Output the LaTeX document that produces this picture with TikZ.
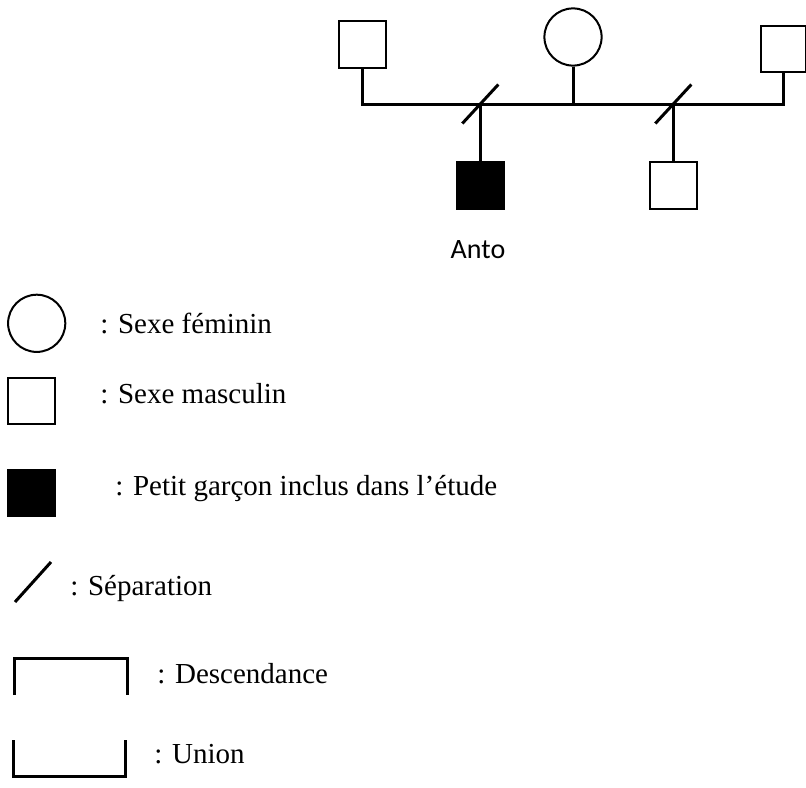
\documentclass[tikz,border=0pt]{standalone}
\usepackage{fontspec}
\setmainfont{Liberation Serif}
\newfontfamily\antofont{Carlito}
\begin{document}
\begin{tikzpicture}[x=0.5pt,y=-0.5pt,
    male/.style={draw,line width=1pt,minimum size=23.3pt,inner sep=0pt,fill=white},
    female/.style={draw,circle,line width=1pt,minimum size=28.6pt,inner sep=0pt},
    index/.style={male,fill=black},
    lien/.style={line width=1.5pt},
    legende/.style={anchor=base west,inner sep=0pt,font=\fontsize{14.5}{17}\selectfont}]
  \useasboundingbox (0,0) rectangle (806,787);
  % pedigree
  \node[male] (pereA) at (362.5,44.5) {};
  \node[female] (mere) at (573,37) {};
  \node[male,minimum size=22.8pt] (pereB) at (783.5,49) {};
  \node[index] (anto) at (480.3,185.3) {};
  \node[male] (frere) at (673.3,185.3) {};
  \node[anchor=base,inner sep=0pt,font=\antofont\fontsize{14}{17}\selectfont] (nom) at (478,258) {Anto};
  \coordinate (uA) at (362.5,104);
  \coordinate (uM) at (573,104);
  \coordinate (uB) at (783.5,104);
  \coordinate (sA) at (480.3,104);
  \coordinate (sB) at (673.3,104);
  \draw[lien] (pereA.south) -- (uA) -- (uB) -- (pereB.south);
  \draw[lien] (mere.south) -- (uM);
  \draw[lien] (sA) -- (anto.north);
  \draw[lien] (sB) -- (frere.north);
  \draw[lien] ([shift={(-18,19.5)}]sA) -- ([shift={(18,-19.5)}]sA);
  \draw[lien] ([shift={(-18,19.5)}]sB) -- ([shift={(18,-19.5)}]sB);
  % legende
  \node[female] (lf) at (36.7,323.3) {};
  \node[male] (lm) at (31.3,401) {};
  \node[index] (li) at (31.7,493) {};
  \coordinate (ls1) at (15,602);
  \coordinate (ls2) at (51,562);
  \draw[lien] (ls1) -- (ls2);
  \draw[lien] (14,695) -- (14,658) -- (127,658) -- (127,695);
  \draw[lien] (13,740) -- (13,776) -- (125,776) -- (125,740);
  \node[legende] at (100,333) {: Sexe féminin};
  \node[legende] at (100,403) {: Sexe masculin};
  \node[legende] at (115,495) {: Petit garçon inclus dans l’étude};
  \node[legende] at (70,595) {: Séparation};
  \node[legende] at (157,683) {: Descendance};
  \node[legende] at (154,763) {: Union};
\end{tikzpicture}
\end{document}
